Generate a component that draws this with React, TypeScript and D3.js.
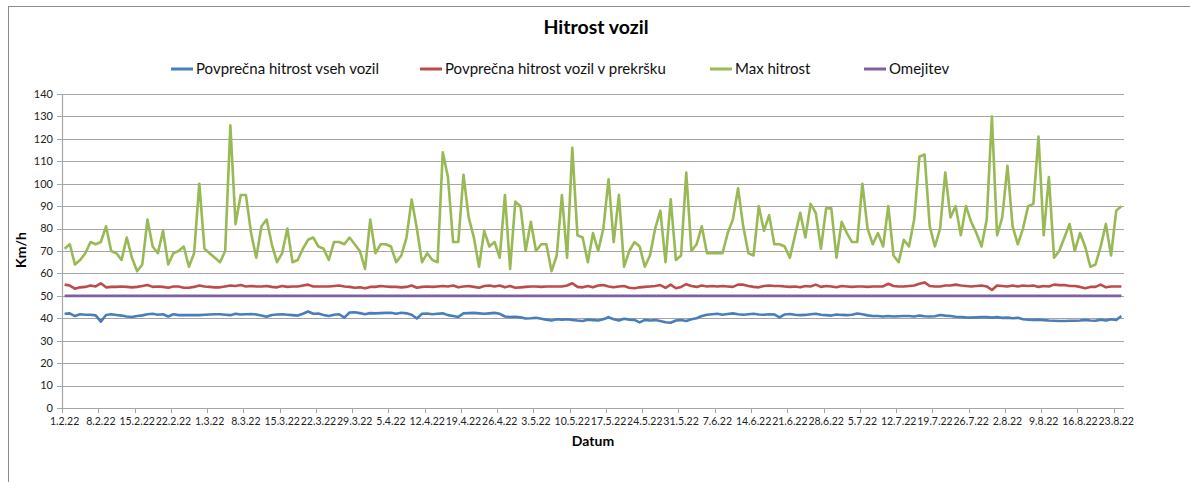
import React, { useEffect, useRef } from "react";
import * as d3 from "d3";

// daily values, 1.2.22 .. 24.8.22
const avgAll = [
  42, 42.2, 41, 41.8, 41.6, 41.6, 41.3, 38.5, 41.5, 41.8,
  41.5, 41.2, 40.8, 40.6, 41, 41.3, 41.8, 42, 41.6, 41.8,
  40.8, 41.8, 41.4, 41.4, 41.4, 41.4, 41.4, 41.6, 41.7, 41.8,
  41.8, 41.6, 41.4, 42, 41.7, 41.8, 41.9, 41.7, 41.2, 40.7,
  41.5, 41.7, 41.8, 41.6, 41.4, 41.2, 42, 43, 42, 42.1,
  41.5, 41, 41.6, 41.8, 40.3, 42.6, 42.7, 42.3, 41.8, 42.3,
  42.2, 42.3, 42.4, 42.5, 42.0, 42.5, 42.2, 41.6, 39.9, 42.0,
  42.1, 41.8, 42.0, 42.2, 41.4, 41.0, 40.6, 42.2, 42.3, 42.4,
  42.2, 42.0, 42.2, 42.4, 42.0, 40.8, 40.6, 40.7, 40.4, 39.9,
  40.0, 40.2, 39.8, 39.4, 39.0, 39.6, 39.4, 39.6, 39.3, 39.0,
  38.8, 39.4, 39.2, 39.0, 39.6, 40.5, 39.6, 39.0, 39.8, 39.4,
  39.3, 38.2, 39.3, 39.0, 39.2, 38.8, 38.2, 38.0, 39.0, 39.2,
  38.8, 39.6, 40.0, 41.0, 41.6, 41.8, 42.0, 41.6, 41.9, 42.2,
  41.8, 41.6, 41.8, 42.0, 41.7, 41.6, 41.8, 41.7, 40.4, 41.7,
  41.9, 41.6, 41.4, 41.5, 41.8, 42.0, 41.6, 41.4, 41.2, 41.7,
  41.5, 41.4, 41.6, 42.1, 41.8, 41.3, 41.0, 41.0, 40.8, 41.0,
  40.8, 40.9, 41.0, 41.0, 40.8, 41.2, 40.9, 40.8, 40.9, 41.5,
  41.2, 41.0, 40.7, 40.6, 40.4, 40.3, 40.4, 40.5, 40.5, 40.3,
  40.5, 40.2, 40.3, 40.0, 40.2, 39.6, 39.4, 39.3, 39.4, 39.2,
  39.0, 38.9, 38.8, 38.8, 38.9, 38.9, 39.0, 39.3, 39.0, 38.9,
  39.4, 39.0, 39.6, 39.2, 41.0,
];

const avgOffenders = [
  55, 54.6, 53.2, 53.8, 54, 54.6, 54.2, 55.6, 53.8, 54,
  54, 54.2, 54, 53.8, 54, 54.4, 54.8, 54, 54.2, 54,
  53.6, 54.2, 54.2, 53.6, 53.6, 54, 54.6, 54.2, 54, 53.8,
  53.8, 54.2, 54.6, 54.4, 54.8, 54.2, 54.4, 54.2, 54.2, 54.4,
  54, 53.8, 54.4, 54, 54.2, 54.2, 54.6, 55, 54.2, 54.2,
  54.2, 54.2, 54.4, 54.6, 54.2, 54.0, 53.6, 53.8, 53.4, 54,
  54, 54.4, 54.2, 54, 54, 53.8, 54, 54.6, 53.6, 54,
  54.2, 54, 54.2, 54.4, 54.2, 54.6, 53.8, 54.2, 54.4, 54,
  53.6, 54.4, 54.6, 54.2, 54.6, 53.8, 54.4, 53.6, 53.8, 54.0,
  54.2, 54.2, 54.0, 54.2, 54.2, 54.2, 54.2, 54.6, 55.6, 54,
  53.8, 54.4, 53.8, 54.6, 54.8, 54.2, 53.8, 54.2, 54.4, 53.6,
  53.4, 53.8, 54.0, 54.2, 54.4, 54.8, 53.6, 55.0, 53.4, 54.0,
  55.2, 54.4, 54.0, 54.6, 54.2, 54.4, 54.2, 54.4, 54.2, 54.0,
  55.0, 55.0, 54.4, 54.0, 53.8, 54.4, 54.6, 54.4, 54.4, 54.2,
  54.0, 54.2, 53.8, 54.4, 54.2, 55.0, 54.0, 54.4, 54.2, 53.8,
  54.4, 54.2, 54.0, 54.2, 54.2, 54.0, 54.2, 54.2, 54.2, 55.4,
  54.4, 54.2, 54.2, 54.4, 54.6, 55.4, 56.0, 54.4, 54.2, 54.2,
  54.6, 54.6, 55.0, 54.6, 54.4, 54.2, 54.4, 54.6, 54.2, 52.6,
  54.6, 54.4, 54.2, 54.6, 54.2, 54.6, 54.4, 54.6, 54.0, 54.4,
  54.2, 55.0, 54.8, 54.8, 54.4, 54.4, 54.0, 53.4, 54.0, 54.0,
  55.0, 53.8, 54.2, 54.2, 54.2,
];

const maxSpeed = [
  71, 73, 64, 66, 69, 74, 73, 74, 81, 70,
  69, 66, 76, 67, 61, 64, 84, 72, 69, 79,
  64, 69, 70, 72, 63, 69, 100, 71, 69, 67,
  65, 70, 126, 82, 95, 95, 78, 67, 81, 84,
  73, 65, 69, 80, 65, 66, 71, 75, 76, 72,
  71, 66, 74, 74, 73, 76, 73, 70, 62, 84,
  69, 73, 73, 72, 65, 68, 76, 93, 80, 65,
  69, 66, 65, 114, 103, 74, 74, 104, 85, 76,
  63, 79, 72, 74, 67, 95, 62, 92, 90, 70,
  83, 70, 73, 73, 61, 68, 95, 67, 116, 77,
  76, 65, 78, 70, 80, 102, 74, 95, 63, 70,
  74, 72, 63, 68, 80, 88, 65, 93, 66, 68,
  105, 70, 73, 81, 69, 69, 69, 69, 78, 84,
  98, 81, 69, 68, 90, 79, 86, 73, 73, 72,
  67, 77, 87, 76, 91, 87, 71, 89, 89, 67,
  83, 78, 74, 74, 100, 80, 73, 78, 72, 90,
  68, 65, 75, 72, 84, 112, 113, 81, 72, 80,
  105, 85, 90, 77, 90, 83, 78, 72, 84, 130,
  77, 85, 108, 81, 73, 80, 90, 91, 121, 77,
  103, 67, 70, 76, 82, 70, 78, 72, 63, 64,
  72, 82, 68, 88, 90,
];

const speedLimit = 50;

const seriesNames = [
  "Povprečna hitrost vseh vozil",
  "Povprečna hitrost vozil v prekršku",
  "Max hitrost",
  "Omejitev",
];
const seriesColors = ["#4a7ebb", "#be4b48", "#98b954", "#7d60a0"];

const startDate = new Date(Date.UTC(2022, 1, 1));
const endDate = new Date(Date.UTC(2022, 7, 25));
const yTicks = d3.range(0, 141, 10);

const W = 1190;
const H = 482;
const FONT = "Lato, 'Open Sans', sans-serif";

export default function App() {
  const svgRef = useRef<SVGSVGElement>(null);

  useEffect(() => {
    const svg = d3.select(svgRef.current);
    svg.selectAll("*").remove();

    const days = d3.utcDay.range(startDate, endDate);
    const x = d3.scaleUtc().domain([startDate, endDate]).range([62, 1124]);
    const y = d3.scaleLinear().domain([0, 140]).range([408, 94]);
    const mid = (d: Date) => x(d3.utcHour.offset(d, 12));
    const fmt = d3.utcFormat("%-d.%-m.%y");

    svg.append("rect").attr("width", W).attr("height", H).attr("fill", "#fff");
    svg
      .append("rect")
      .attr("x", 8.5)
      .attr("y", 6.5)
      .attr("width", 1300)
      .attr("height", 600)
      .attr("fill", "none")
      .attr("stroke", "#8c8c8c");

    svg
      .append("text")
      .attr("x", 596)
      .attr("y", 34)
      .attr("text-anchor", "middle")
      .style("font", `bold 19.5px ${FONT}`)
      .text("Hitrost vozil");

    // legend
    const legendX = [171, 420, 710, 864];
    const legend = svg
      .append("g")
      .selectAll("g")
      .data(seriesNames)
      .join("g")
      .attr("transform", (_d, i) => `translate(${legendX[i]},69)`);
    legend
      .append("line")
      .attr("x2", 22)
      .attr("stroke", (_d, i) => seriesColors[i])
      .attr("stroke-width", 3);
    legend
      .append("text")
      .attr("x", 25)
      .attr("dy", "0.35em")
      .style("font", `15px ${FONT}`)
      .attr("fill", "#111")
      .text((d) => d);

    // grid
    svg
      .append("g")
      .selectAll("line")
      .data(yTicks)
      .join("line")
      .attr("x1", 57)
      .attr("x2", 1124)
      .attr("y1", (d) => Math.round(y(d)) + 0.5)
      .attr("y2", (d) => Math.round(y(d)) + 0.5)
      .attr("stroke", "#a6a6a6")
      .attr("stroke-width", 1.2);

    svg
      .append("line")
      .attr("x1", 62.5)
      .attr("x2", 62.5)
      .attr("y1", y(140))
      .attr("y2", y(0))
      .attr("stroke", "#a6a6a6")
      .attr("stroke-width", 1.2);

    svg
      .append("g")
      .selectAll("text")
      .data(yTicks)
      .join("text")
      .attr("x", 53)
      .attr("y", (d) => y(d))
      .attr("dy", "0.35em")
      .attr("text-anchor", "end")
      .style("font", `11px ${FONT}`)
      .attr("fill", "#222")
      .text((d) => d);

    // x axis ticks and labels
    const weekly = d3.utcDay.range(startDate, endDate, 7);
    svg
      .append("g")
      .selectAll("line")
      .data(weekly)
      .join("line")
      .attr("x1", (d) => Math.round(x(d)) + 0.5)
      .attr("x2", (d) => Math.round(x(d)) + 0.5)
      .attr("y1", y(0))
      .attr("y2", y(0) + 5)
      .attr("stroke", "#a6a6a6");

    svg
      .append("g")
      .selectAll("text")
      .data(weekly)
      .join("text")
      .attr("x", (d) => mid(d))
      .attr("y", 425)
      .attr("text-anchor", "middle")
      .style("font", `10.5px ${FONT}`)
      .attr("fill", "#222")
      .text((d) => fmt(d));

    svg
      .append("text")
      .attr("x", 593)
      .attr("y", 446)
      .attr("text-anchor", "middle")
      .style("font", `bold 14px ${FONT}`)
      .text("Datum");

    svg
      .append("text")
      .attr("transform", "translate(26,250) rotate(-90)")
      .attr("text-anchor", "middle")
      .style("font", `bold 14px ${FONT}`)
      .text("Km/h");

    // series
    const line = d3
      .line<number>()
      .x((_d, i) => mid(days[i]))
      .y((d) => y(d));

    const limit = days.map(() => speedLimit);
    const series = [avgAll, avgOffenders, maxSpeed, limit];

    svg
      .append("g")
      .selectAll("path")
      .data(series)
      .join("path")
      .attr("d", (d) => line(d))
      .attr("fill", "none")
      .attr("stroke", (_d, i) => seriesColors[i])
      .attr("stroke-width", 2.6)
      .attr("stroke-linejoin", "round");
  }, []);

  return (
    <svg
      ref={svgRef}
      width={W}
      height={H}
      style={{ position: "absolute", left: 0, top: 0 }}
    />
  );
}
